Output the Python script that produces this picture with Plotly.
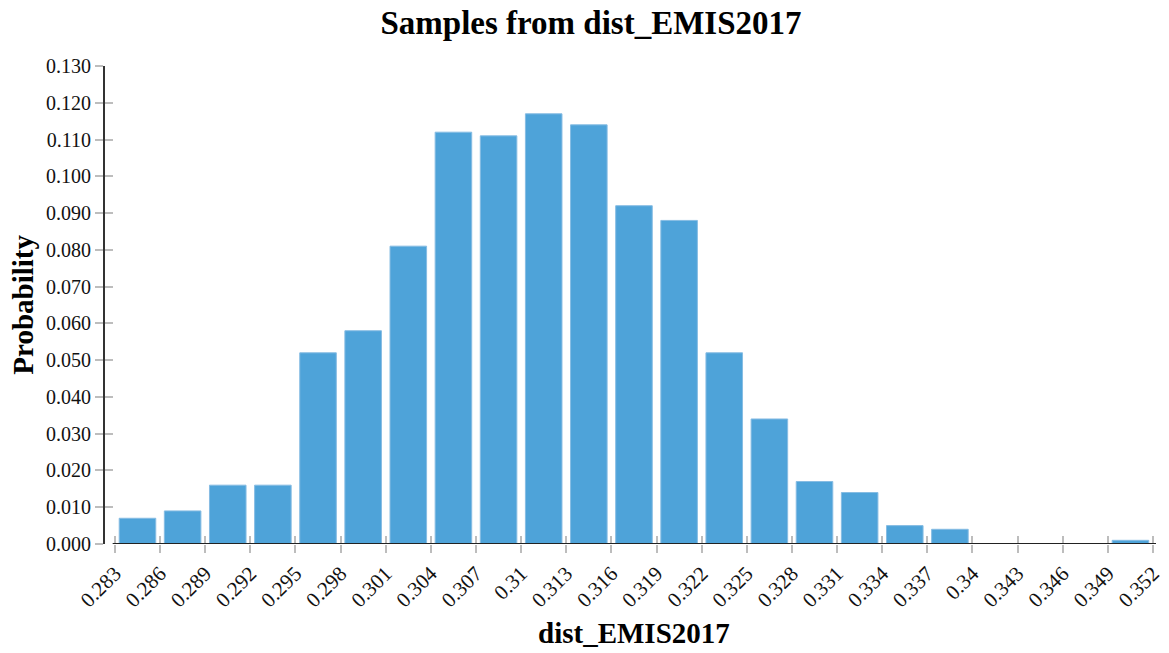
import plotly.graph_objects as go

# bin edges (tick labels) and probabilities per bin
edge_values = [0.283, 0.286, 0.289, 0.292, 0.295, 0.298, 0.301, 0.304, 0.307, 0.31,
               0.313, 0.316, 0.319, 0.322, 0.325, 0.328, 0.331, 0.334, 0.337, 0.34,
               0.343, 0.346, 0.349, 0.352]
edge_labels = ["0.283", "0.286", "0.289", "0.292", "0.295", "0.298", "0.301", "0.304",
               "0.307", "0.31", "0.313", "0.316", "0.319", "0.322", "0.325", "0.328",
               "0.331", "0.334", "0.337", "0.34", "0.343", "0.346", "0.349", "0.352"]
probabilities = [0.007, 0.009, 0.016, 0.016, 0.052, 0.058, 0.081, 0.112, 0.111, 0.117,
                 0.114, 0.092, 0.088, 0.052, 0.034, 0.017, 0.014, 0.005, 0.004, 0.0,
                 0.0, 0.0, 0.001]
y_ticks = [i / 100 for i in range(0, 14)]

centers = [(a + b) / 2 for a, b in zip(edge_values[:-1], edge_values[1:])]

FONT = "Liberation Serif, Times New Roman, serif"
TICKC = "#BDBDBD"

fig = go.Figure()
fig.add_trace(go.Bar(
    x=centers, y=probabilities,
    marker=dict(color="#4EA3D9", line=dict(color="#86BCE3", width=1)),
    hoverinfo="x+y", showlegend=False,
))
# helper trace to draw the inner half of the crossing tick marks
fig.add_trace(go.Scatter(x=[edge_values[0]], y=[0], xaxis="x2", yaxis="y2",
                         mode="markers", marker=dict(opacity=0), hoverinfo="skip",
                         showlegend=False))

step = edge_values[1] - edge_values[0]
x_lo = edge_values[0] - step * 10 / 45.5
x_hi = edge_values[-1] + step * 3 / 45.5

common_x = dict(range=[x_lo, x_hi], tickmode="array", tickvals=edge_values,
                ticklen=8, tickwidth=1.5, tickcolor=TICKC, showgrid=False,
                zeroline=False, showline=False)
common_y = dict(range=[0, 0.13], tickmode="array", tickvals=y_ticks,
                ticklen=8, tickwidth=1.5, tickcolor=TICKC, showgrid=False,
                zeroline=False)

fig.update_layout(
    width=1169, height=653,
    margin=dict(l=105, r=5, t=66, b=109, pad=0),
    plot_bgcolor="white", paper_bgcolor="white",
    bargap=0.19,
    font=dict(family=FONT, color="#111"),
    title=dict(text="<b>Samples from dist_EMIS2017</b>", x=591 / 1169, xanchor="center",
               y=1 - 22 / 653, yanchor="middle", yref="container",
               font=dict(family=FONT, size=33, color="#000")),
    xaxis=dict(**common_x, ticks="outside", ticktext=edge_labels, tickangle=-45,
               ticklabeloverflow="allow",
               tickfont=dict(family=FONT, size=21, color="#111")),
    yaxis=dict(**common_y, ticks="outside", ticktext=[f"{v:.3f}" for v in y_ticks],
               showline=True, linecolor="#333", linewidth=2,
               tickfont=dict(family=FONT, size=20, color="#111")),
    xaxis2=dict(**common_x, overlaying="x", anchor="y2", ticks="inside",
                showticklabels=False),
    yaxis2=dict(**common_y, overlaying="y", anchor="x2", ticks="inside",
                showticklabels=False, showline=False),
    shapes=[dict(type="line", xref="x", yref="y", x0=edge_values[0] - step * 0.05, x1=x_hi,
                 y0=0, y1=0, line=dict(color="#222", width=2), layer="above")],
    annotations=[
        dict(text="<b>dist_EMIS2017</b>", xref="paper", yref="paper", x=0.503,
             y=-(633 - 544) / 478, xanchor="center", yanchor="middle", showarrow=False,
             font=dict(family=FONT, size=29, color="#000")),
        dict(text="<b>Probability</b>", xref="paper", yref="paper", x=(22 - 105) / 1059,
             y=0.5, xanchor="center", yanchor="middle", textangle=-90, showarrow=False,
             font=dict(family=FONT, size=29, color="#000")),
    ],
)

fig.write_html("out.html", config={"displayModeBar": False},
               post_script="document.body.style.margin='0px';document.body.style.overflow='hidden';")
